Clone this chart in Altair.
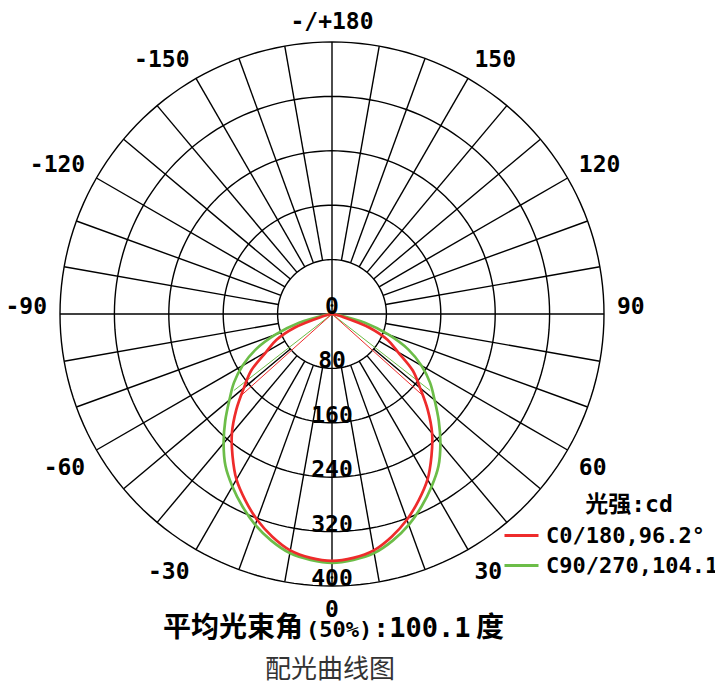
import math
import altair as alt
import pandas as pd

# ---------------- data ----------------
angles = [0, 5, 10, 15, 20, 25, 30, 35, 40, 45, 50, 55, 60, 65, 70, 75, 80, 85, 90]
red_cd = [363, 360, 353, 339, 322, 302, 281, 255, 229, 199, 169, 145, 112, 90, 58, 16, 4, 1, 0]
green_cd = [366, 363, 357, 345, 330, 312, 293, 273, 248, 222, 197, 176, 152, 124, 88, 50, 11, 2, 0]
series_names = ["C0/180,96.2°", "C90/270,104.1°"]
beam_angles = [96.2, 104.1]
series_colors = ["#ee2b2b", "#6cbd48"]
ring_values = [80, 160, 240, 320, 400]
ring_labels = ["0", "80", "160", "240", "320", "400"]
ring_label_values = [0, 80, 160, 240, 320, 400]
angle_ticks = [0, 30, 60, 90, 120, 150, 180, -150, -120, -90, -60, -30]
angle_tick_labels = ["0", "30", "60", "90", "120", "150", "-/+180",
                     "-150", "-120", "-90", "-60", "-30"]
legend_title = "光强:cd"
beam_text = ["平均光束角", "(50%)", ":100.1", "度"]
caption = "配光曲线图"

# ---------------- geometry helpers ----------------
PX_PER_CD = 272 / 400.0
W, H = 707, 677
CX, CY = 324, 306  # centre of the diagram inside the view (px)
xmin, xmax = -CX / PX_PER_CD, (W - CX) / PX_PER_CD
ymin, ymax = -(H - CY) / PX_PER_CD, CY / PX_PER_CD


def pol(r, a_deg):
    a = math.radians(a_deg)
    return r * math.sin(a), -r * math.cos(a)


X = alt.X("x:Q", scale=alt.Scale(domain=[xmin, xmax], nice=False, zero=False), axis=None)
Y = alt.Y("y:Q", scale=alt.Scale(domain=[ymin, ymax], nice=False, zero=False), axis=None)

# grid
grid_rows = []
for rv in ring_values:
    for i, t in enumerate(range(0, 361, 2)):
        x, y = pol(rv, t)
        grid_rows.append({"gid": f"ring{rv}", "ord": i, "x": x, "y": y})
for a in range(0, 360, 10):
    r0 = 0 if a % 90 == 0 else ring_values[0]
    for i, rr in enumerate([r0, ring_values[-1]]):
        x, y = pol(rr, a)
        grid_rows.append({"gid": f"spoke{a}", "ord": i, "x": x, "y": y})
grid_df = pd.DataFrame(grid_rows)

# curves (mirrored, symmetric distribution)
curve_rows = []
beam_frames = []
for name, cd, beam, col in [(series_names[1], green_cd, beam_angles[1], series_colors[1]),
                            (series_names[0], red_cd, beam_angles[0], series_colors[0])]:
    full_a = [-a for a in reversed(angles[1:])] + angles
    full_cd = list(reversed(cd[1:])) + cd
    for i, (a, v) in enumerate(zip(full_a, full_cd)):
        x, y = pol(v, a)
        curve_rows.append({"series": name, "ord": i, "x": x, "y": y})
    half = max(cd) / 2.0
    rows = []
    for side in (-1, 1):
        for i, rr in enumerate([0, half]):
            x, y = pol(rr, side * beam / 2.0)
            rows.append({"gid": f"{name}{side}", "ord": i, "x": x, "y": y})
    beam_frames.append((pd.DataFrame(rows), col))
curve_df = pd.DataFrame(curve_rows)

color_scale = alt.Scale(domain=series_names, range=series_colors)

grid = alt.Chart(grid_df).mark_line(color="black", strokeWidth=1.4).encode(
    x=X, y=Y, detail="gid:N", order="ord:Q")

beams = [alt.Chart(df).mark_line(strokeWidth=1, color=col).encode(
    x=X, y=Y, detail="gid:N", order="ord:Q") for df, col in beam_frames]

curves = alt.Chart(curve_df).mark_line(interpolate="catmull-rom", strokeWidth=2.7).encode(
    x=X, y=Y, order="ord:Q",
    color=alt.Color("series:N", scale=color_scale, sort=series_names,
                    legend=alt.Legend(
                        title=None, orient="none", legendX=495, legendY=509,
                        symbolType="stroke", symbolSize=1156, symbolStrokeWidth=3,
                        labelFont="DejaVu Sans Mono", labelFontSize=22, labelFontWeight="bold",
                        labelColor="black", labelLimit=400, labelOffset=6,
                        rowPadding=-6, padding=0)))

ring_df = pd.DataFrame({"label": ring_labels, "x": [0.0] * len(ring_labels),
                        "y": [-v for v in ring_label_values]})
ring_text = alt.Chart(ring_df).mark_text(
    font="DejaVu Sans Mono", fontSize=23, fontWeight="bold", color="black",
    align="center", baseline="alphabetic").encode(x=X, y=Y, text="label:N")

LABEL_R = 285 / PX_PER_CD
lab_rows = []
for a, t in zip(angle_ticks, angle_tick_labels):
    x, y = pol(LABEL_R, a)
    aa = a % 360
    if aa in (0, 180):
        align = "center"
    elif aa < 180:
        align = "left"
    else:
        align = "right"
    baseline = "top" if (aa < 90 or aa > 270) else "alphabetic"
    lab_rows.append({"label": t, "x": x, "y": y, "align": align, "baseline": baseline})
lab_df = pd.DataFrame(lab_rows)

angle_layers = []
for (al, bl), sub in lab_df.groupby(["align", "baseline"]):
    angle_layers.append(
        alt.Chart(sub).mark_text(font="DejaVu Sans Mono", fontSize=23, fontWeight="bold",
                                 color="black", align=al, baseline=bl)
        .encode(x=X, y=Y, text="label:N"))

one = pd.DataFrame({"k": [0]})
BASE_Y = 637 - 8
beam_layers = [
    alt.Chart(one).mark_text(font="DejaVu Sans Mono, Noto Sans CJK SC", fontSize=23,
                             fontWeight="bold", color="black", align="center",
                             baseline="alphabetic")
    .encode(x=alt.value(629 - 8), y=alt.value(512 - 8), text=alt.value(legend_title)),
    alt.Chart(one).mark_text(font="Noto Sans CJK SC", fontSize=28, fontWeight="bold",
                             color="black", align="right", baseline="alphabetic")
    .encode(x=alt.value(303 - 8), y=alt.value(BASE_Y), text=alt.value(beam_text[0])),
    alt.Chart(one).mark_text(font="DejaVu Sans Mono", fontSize=22, fontWeight="bold",
                             color="black", align="left", baseline="alphabetic")
    .encode(x=alt.value(306 - 8), y=alt.value(BASE_Y), text=alt.value(beam_text[1])),
    alt.Chart(one).mark_text(font="DejaVu Sans Mono", fontSize=27, fontWeight="bold",
                             color="black", align="left", baseline="alphabetic")
    .encode(x=alt.value(373 - 8), y=alt.value(BASE_Y), text=alt.value(beam_text[2])),
    alt.Chart(one).mark_text(font="Noto Sans CJK SC", fontSize=28, fontWeight="bold",
                             color="black", align="left", baseline="alphabetic")
    .encode(x=alt.value(476 - 8), y=alt.value(BASE_Y), text=alt.value(beam_text[3])),
    alt.Chart(one).mark_text(font="Noto Sans CJK SC", fontSize=26, color="#333333",
                             align="center", baseline="alphabetic")
    .encode(x=alt.value(330 - 8), y=alt.value(H - 7), text=alt.value(caption)),
]

chart = alt.layer(grid, *beams, curves, ring_text, *angle_layers, *beam_layers).properties(
    width=W, height=H, padding=0, autosize="none", background="white"
).configure_view(stroke=None)

chart.save("out.html", embed_options={"renderer": "svg", "actions": False})
